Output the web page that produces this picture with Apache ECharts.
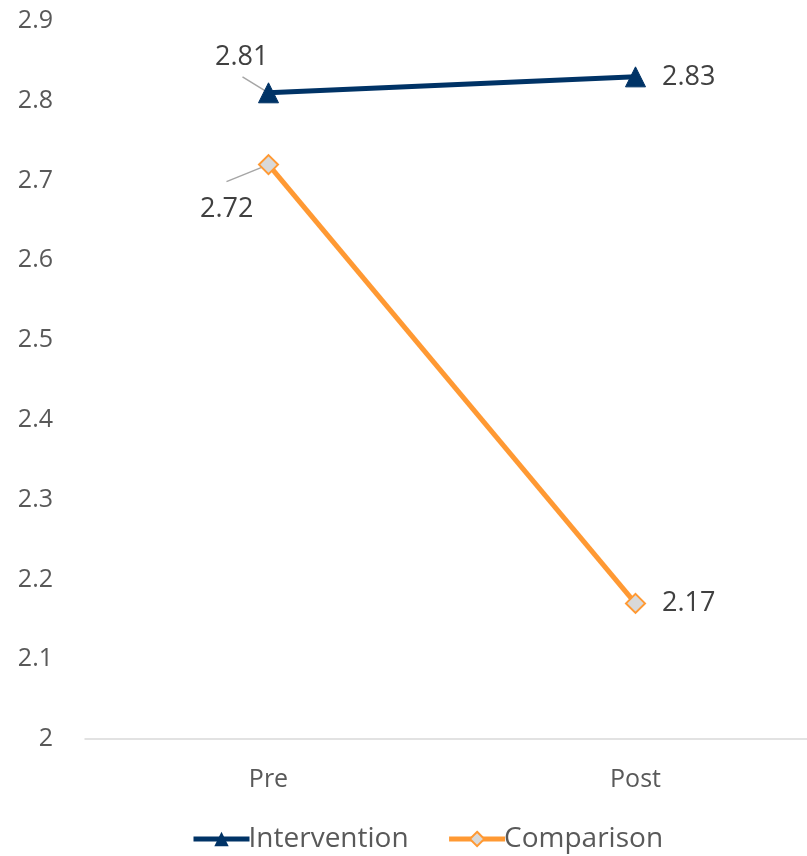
<!DOCTYPE html>
<html><head><meta charset="utf-8">
<script src="https://cdn.jsdelivr.net/npm/echarts@6/dist/echarts.min.js"></script>
<style>html,body{margin:0;padding:0;background:#fff}#c{width:807px;height:856px}</style>
</head><body><div id="c"></div>
<script>
const categories = ['Pre', 'Post'];
const intervention = [2.81, 2.83];
const comparison = [2.72, 2.17];
const yMin = 2, yMax = 2.9, yStep = 0.1;

const FONT = '"Open Sans", "Noto Sans", sans-serif';
// leader-line styling: pixel offsets of the line's far end from the marker centre
const LEADER_OFFSETS = [[-26, -16], [-42, 17]];
const leaderPoints = [[0, intervention[0]], [0, comparison[0]]];

const chart = echarts.init(document.getElementById('c'));
const lbl = { show: true, position: 'right', distance: 16, color: '#404040', fontSize: 27, fontFamily: FONT };

chart.setOption({
  animation: false,
  grid: { left: 85, width: 734, top: 21, bottom: 117, outerBoundsMode: 'none', containLabel: false },
  xAxis: {
    type: 'category', data: categories, boundaryGap: true,
    axisLine: { lineStyle: { color: '#d9d9d9', width: 1.5 } },
    axisTick: { show: false },
    axisLabel: { color: '#595959', fontSize: 25, fontFamily: FONT, margin: 28 }
  },
  yAxis: {
    type: 'value', min: yMin, max: yMax, interval: yStep,
    splitLine: { show: false },
    axisLine: { show: false }, axisTick: { show: false },
    axisLabel: { color: '#595959', fontSize: 25, fontFamily: FONT, margin: 32,
      formatter: v => String(Math.round(v * 10) / 10) }
  },
  legend: {
    data: ['Intervention', 'Comparison'],
    bottom: 3, left: 191, padding: 0, itemWidth: 56, itemHeight: 18, itemGap: 38,
    lineStyle: { width: 5 },
    textStyle: { color: '#595959', fontSize: 28, fontFamily: FONT, padding: [0, 0, 0, -6] }
  },
  series: [
    {
      name: 'leaders', type: 'custom', z: 1, silent: true,
      data: leaderPoints,
      renderItem: (params, api) => {
        const p = api.coord([api.value(0), api.value(1)]);
        const o = LEADER_OFFSETS[params.dataIndex];
        return { type: 'line', shape: { x1: p[0] + o[0], y1: p[1] + o[1], x2: p[0], y2: p[1] },
                 style: { stroke: '#a6a6a6', lineWidth: 1.5 } };
      }
    },
    {
      name: 'Intervention', type: 'line', z: 3,
      data: intervention,
      symbol: 'triangle', symbolSize: 20,
      lineStyle: { color: '#003366', width: 5 },
      itemStyle: { color: '#003366', borderColor: '#003366' },
      label: lbl,
      labelLayout: p => p.dataIndex === 0 ? { dx: -80, dy: -35 } : {}
    },
    {
      name: 'Comparison', type: 'line', z: 2,
      data: comparison,
      symbol: 'diamond', symbolSize: 19,
      lineStyle: { color: '#FF9933', width: 5 },
      itemStyle: { color: '#D9D9D9', borderColor: '#FF9933', borderWidth: 2 },
      label: lbl,
      labelLayout: p => p.dataIndex === 0 ? { dx: -95, dy: 45 } : {}
    }
  ]
});
</script></body></html>
